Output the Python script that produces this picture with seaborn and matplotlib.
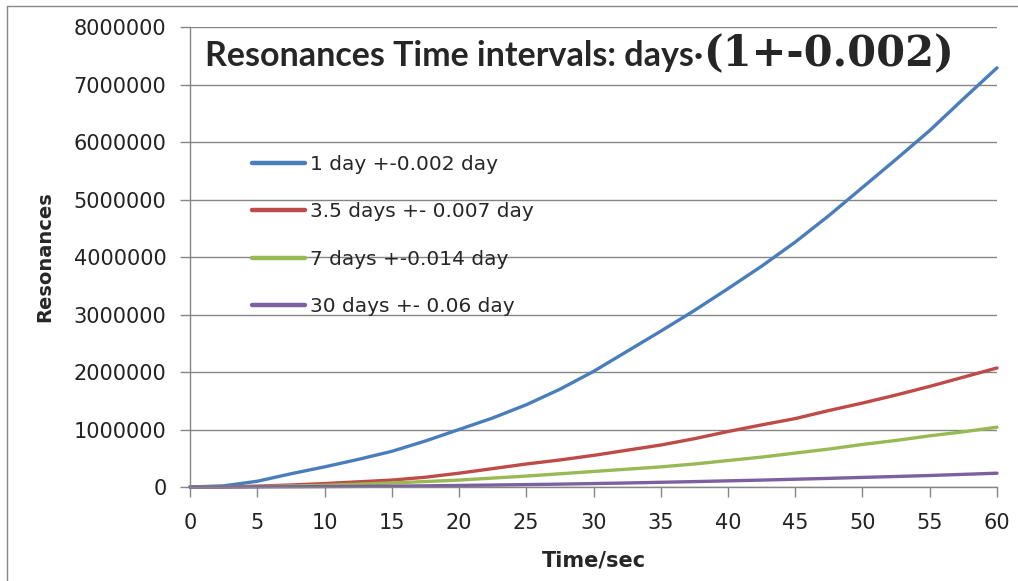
import numpy as np
import pandas as pd
import seaborn as sns
import matplotlib.pyplot as plt
from matplotlib.lines import Line2D

time_sec = [0, 2.5, 5, 7.5, 10, 12.5, 15, 17.5, 20, 22.5, 25, 27.5, 30,
            32.5, 35, 37.5, 40, 42.5, 45, 47.5, 50, 52.5, 55, 57.5, 60]
one_day = [0, 20000, 100000, 230000, 350000, 480000, 620000, 800000, 1000000, 1200000, 1430000, 1700000, 2010000,
           2360000, 2710000, 3070000, 3450000, 3840000, 4260000, 4720000, 5210000, 5700000, 6200000, 6750000, 7290000]
three_half_days = [0, 3000, 15000, 35000, 60000, 90000, 120000, 170000, 240000, 320000, 400000, 470000, 550000,
                   640000, 730000, 840000, 965000, 1080000, 1190000, 1330000, 1460000, 1600000, 1750000, 1910000, 2070000]
seven_days = [0, 2000, 8000, 18000, 30000, 50000, 70000, 95000, 120000, 155000, 190000, 230000, 270000,
              310000, 350000, 400000, 460000, 520000, 590000, 660000, 740000, 810000, 890000, 960000, 1040000]
thirty_days = [0, 0, 2000, 4000, 7000, 10000, 15000, 20000, 27000, 34000, 42000, 50000, 60000,
               70000, 82000, 94000, 107000, 120000, 135000, 150000, 167000, 183000, 200000, 220000, 240000]

series_names = ["1 day +-0.002 day", "3.5 days +- 0.007 day", "7 days +-0.014 day", "30 days +- 0.06 day"]
colors = ["#4A7EBB", "#BE4B48", "#98B954", "#7D60A0"]

frames = []
for name, vals in zip(series_names, [one_day, three_half_days, seven_days, thirty_days]):
    frames.append(pd.DataFrame({"Time/sec": time_sec, "Resonances": vals, "series": name}))
df = pd.concat(frames, ignore_index=True)

sns.set_style("white")
plt.rcParams["font.family"] = ["DejaVu Sans"]

fig = plt.figure(figsize=(10.18, 5.81), dpi=100)
ax = fig.add_axes([190/1018, 1-487/581, (997-190)/1018, (487-27)/581])

sns.lineplot(data=df, x="Time/sec", y="Resonances", hue="series", hue_order=series_names,
             palette=colors, linewidth=2.4, ax=ax, legend=True)
for ln in ax.lines:
    ln.set_clip_on(False)
    ln.set_solid_capstyle("round")

ax.set_xlim(0, 60)
ax.set_ylim(0, 8000000)
ax.set_xticks(range(0, 61, 5))
ax.set_yticks(range(0, 8000001, 1000000))
ax.set_yticklabels([str(v) for v in range(0, 8000001, 1000000)])
ax.yaxis.grid(True, color="#868686", linewidth=1)
ax.set_axisbelow(True)
for s in ["top", "right"]:
    ax.spines[s].set_visible(False)
for s in ["left", "bottom"]:
    ax.spines[s].set_color("#868686")
    ax.spines[s].set_linewidth(1)
ax.tick_params(axis="both", direction="out", length=7.5, color="#868686", width=1,
               labelsize=15, labelcolor="#222222")
ax.tick_params(axis="x", bottom=True, pad=11)
ax.tick_params(axis="y", left=True, pad=9.5)

ax.set_xlabel("Time/sec", fontsize=15, fontweight="bold")
ax.set_ylabel("Resonances", fontsize=14, fontweight="bold")
ax.xaxis.set_label_coords(0.5006, -0.139)
ax.yaxis.set_label_coords(-0.1685, 0.5)

leg = ax.legend(loc="upper left", bbox_to_anchor=(0.0765, 0.722), frameon=False,
                fontsize=14.5, handlelength=2.65, handletextpad=0.25, labelspacing=1.41,
                borderpad=0, borderaxespad=0, title=None)
for h in leg.get_lines():
    h.set_linewidth(3.2)

t1 = ax.text(0.0186, 0.915, "Resonances Time intervals: days\u00b7", transform=ax.transAxes,
             fontsize=24.5, fontweight="bold", family=["Lato", "DejaVu Sans"], va="baseline", ha="left")
ax.annotate("(1+-0.002)", xy=(1, 0.915), xycoords=(t1, "axes fraction"), va="baseline", ha="left",
            fontsize=30, fontweight="bold", family=["DejaVu Serif"])

fig.add_artist(Line2D([7/1018, 7/1018], [0, 1-6/581], transform=fig.transFigure, color="#888888", linewidth=1))
fig.add_artist(Line2D([7/1018, 1], [1-6/581, 1-6/581], transform=fig.transFigure, color="#888888", linewidth=1))

fig.savefig("out.png", dpi=100)
